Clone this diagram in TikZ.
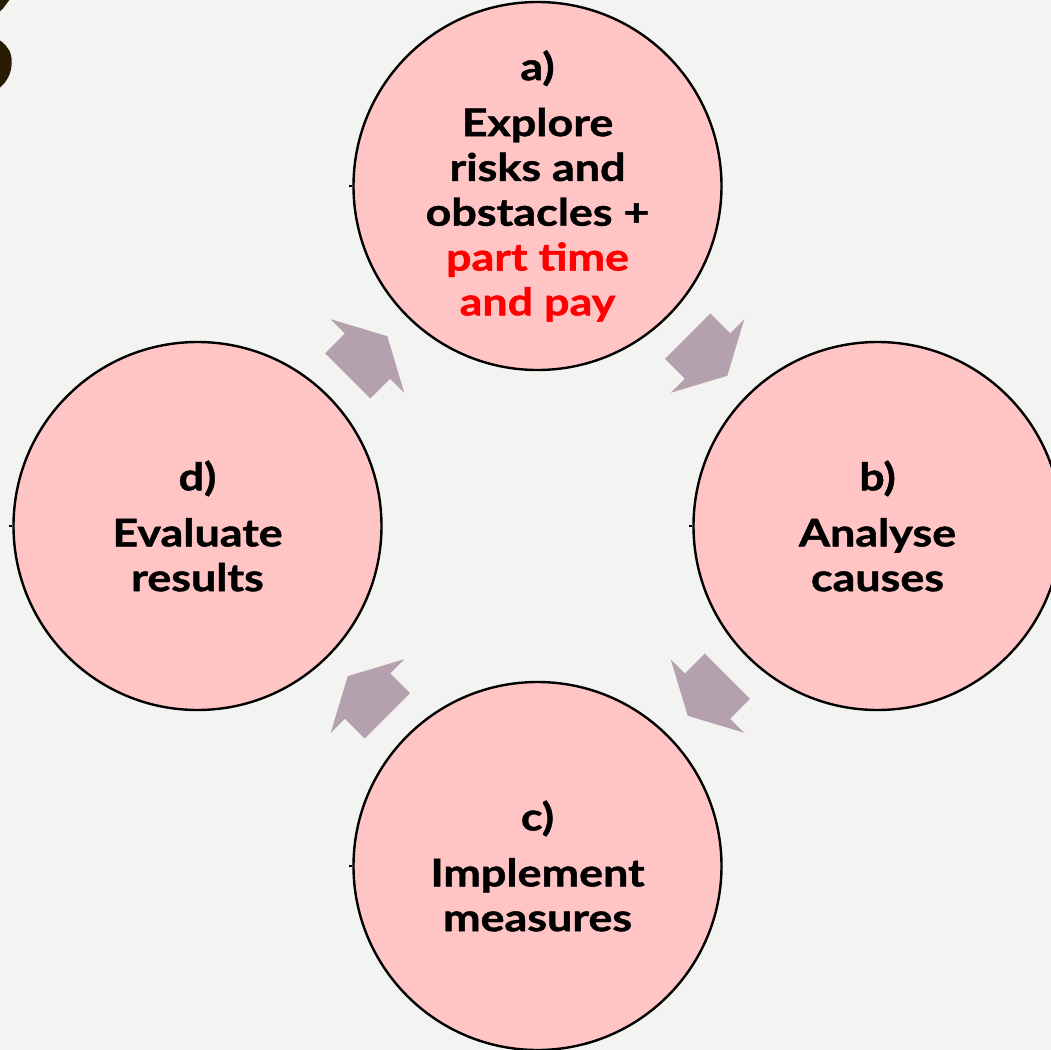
\documentclass[tikz,border=0pt]{standalone}
\usepackage{fontspec}
\setmainfont[BoldFeatures={FakeStretch=1.18, FakeBold=1.2}]{Lato}
\usepackage{tikz}
\usetikzlibrary{calc}
\definecolor{bgrey}{RGB}{243,243,241}
\definecolor{petal}{RGB}{255,196,196}
\definecolor{mauve}{RGB}{181,161,174}
\definecolor{darkbrown}{RGB}{42,28,4}
\tikzstyle{phase} = [circle, minimum size=184pt, inner sep=0pt, draw=black, line width=1.2pt, fill=petal, align=center, font=\fontsize{19}{22.4}\selectfont\bfseries]
\tikzstyle{blockarrow} = [fill=mauve]
\tikzstyle{tick} = [line width=0.6pt]
\newcommand{\cyclearrow}[3]{%
  \fill[blockarrow, shift={($(#1)!0.5!(#2)$)}, rotate=#3]
    (-14pt,-16pt) -- (0pt,-16pt) -- (0pt,-26pt) -- (14pt,0pt) -- (0pt,26pt) -- (0pt,16pt) -- (-14pt,16pt) -- cycle;}

\begin{document}
\begin{tikzpicture}[node distance=170pt]

	\fill[bgrey] (0pt,0pt) rectangle (525.5pt,-525pt);
	\useasboundingbox (0pt,0pt) rectangle (525.5pt,-525pt);

	\node (title) [anchor=base east, inner sep=0pt, text=darkbrown, font=\fontsize{108}{108}\selectfont\bfseries] at (9.5pt,-48.5pt) {s};

	\node (a) [phase] at (268.75pt,-93pt) {a)\\[5.6pt]Explore\\risks and\\obstacles +\\\textcolor{red}{part time}\\\textcolor{red}{and pay}};
	\node (b) [phase, below of=a, xshift=170pt] {b)\\[5.6pt]Analyse\\causes};
	\node (c) [phase, below of=b, xshift=-170pt] {c)\\[5.6pt]Implement\\measures};
	\node (d) [phase, below of=a, xshift=-170pt] {d)\\[5.6pt]Evaluate\\results};

	\draw [tick] (a.west) -- ++(-1.5pt,0pt);
	\draw [tick] (b.west) -- ++(-1.5pt,0pt);
	\draw [tick] (c.west) -- ++(-1.5pt,0pt);
	\draw [tick] (d.west) -- ++(-1.5pt,0pt);

	\cyclearrow{d}{a}{45}
	\cyclearrow{a}{b}{-45}
	\cyclearrow{b}{c}{-135}
	\cyclearrow{c}{d}{135}

\end{tikzpicture}
\end{document}
